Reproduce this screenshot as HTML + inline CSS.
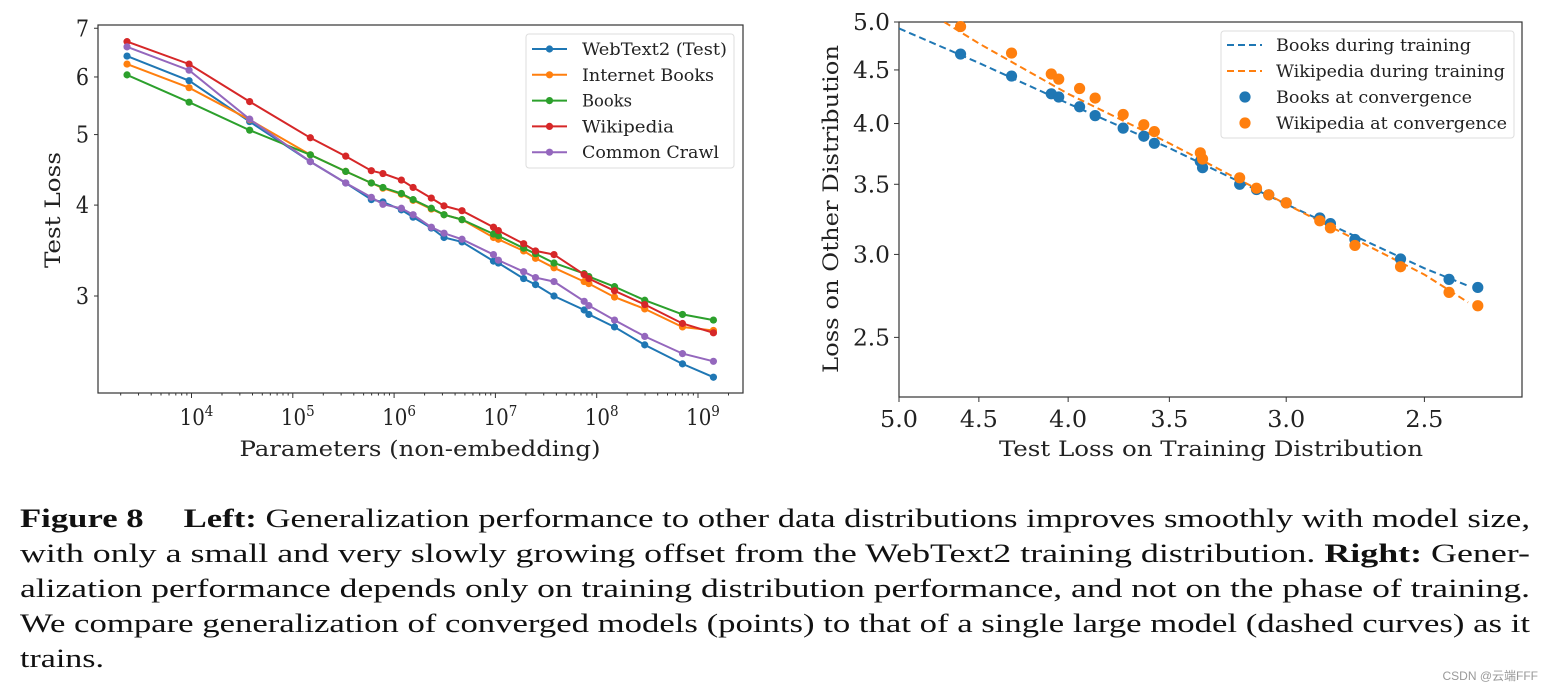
<!DOCTYPE html>
<html><head><meta charset="utf-8"><style>
html,body{margin:0;padding:0;background:#fff;}
svg{display:block;}
text{font-family:"DejaVu Serif","Liberation Serif",serif;fill:#222;}
text.cond{font-family:"DejaVu Serif Condensed","DejaVu Serif",serif;}
text.cap{font-family:"Liberation Serif",serif;fill:#111;font-size:26px;}
</style></head><body>
<svg id="fig" width="1550" height="691" viewBox="0 0 1550 691" xmlns="http://www.w3.org/2000/svg">
<g id="left"></g>
<g id="right"></g>
<g>
<text class="cap" x="20" y="527" textLength="1510" lengthAdjust="spacingAndGlyphs"><tspan font-weight="bold">Figure 8</tspan><tspan dx="30" font-weight="bold">Left:</tspan> Generalization performance to other data distributions improves smoothly with model size,</text>
<text class="cap" x="20" y="562" textLength="1510" lengthAdjust="spacingAndGlyphs">with only a small and very slowly growing offset from the WebText2 training distribution. <tspan font-weight="bold">Right:</tspan> Gener-</text>
<text class="cap" x="20" y="597" textLength="1510" lengthAdjust="spacingAndGlyphs">alization performance depends only on training distribution performance, and not on the phase of training.</text>
<text class="cap" x="20" y="632" textLength="1510" lengthAdjust="spacingAndGlyphs">We compare generalization of converged models (points) to that of a single large model (dashed curves) as it</text>
<text class="cap" x="20" y="667" textLength="84" lengthAdjust="spacingAndGlyphs">trains.</text>
</g>
<text x="1538" y="680" text-anchor="end" style="font-family:'Liberation Sans','Noto Sans CJK SC',sans-serif;font-size:12px;fill:#999">CSDN @云端FFF</text>
</svg>
<script>
// ---- Left chart data ----
const params = [2.31e3,9.46e3,3.75e4,1.49e5,3.33e5,5.96e5,7.76e5,1.18e6,1.54e6,2.33e6,3.11e6,4.68e6,9.57e6,1.07e7,1.90e7,2.49e7,3.79e7,7.52e7,8.37e7,1.50e8,2.98e8,7.03e8,1.42e9];
const webtext2 = [6.41,5.93,5.21,4.59,4.29,4.07,4.04,3.94,3.85,3.72,3.61,3.56,3.35,3.33,3.17,3.11,3.00,2.87,2.83,2.72,2.57,2.42,2.32];
const internetBooks = [6.25,5.80,5.24,4.69,4.45,4.29,4.22,4.14,4.06,3.95,3.88,3.82,3.61,3.59,3.46,3.38,3.28,3.14,3.12,2.99,2.88,2.72,2.69];
const books = [6.04,5.54,5.07,4.69,4.45,4.29,4.23,4.15,4.07,3.96,3.88,3.82,3.65,3.63,3.49,3.43,3.33,3.22,3.19,3.09,2.96,2.83,2.78];
const wikipedia = [6.71,6.25,5.55,4.95,4.67,4.46,4.42,4.33,4.23,4.09,3.99,3.93,3.73,3.69,3.54,3.46,3.42,3.21,3.17,3.05,2.92,2.75,2.67];
const commonCrawl = [6.60,6.13,5.25,4.59,4.29,4.10,4.01,3.96,3.88,3.73,3.66,3.59,3.42,3.36,3.24,3.18,3.14,2.95,2.91,2.78,2.64,2.50,2.44];
const leftSeriesNames = ["WebText2 (Test)","Internet Books","Books","Wikipedia","Common Crawl"];
const leftYTicks = [3,4,5,6,7];
const leftXTickExps = [4,5,6,7,8,9];
// ---- Right chart data ----
const booksConvX = [4.61,4.31,4.09,4.05,3.94,3.86,3.72,3.62,3.57,3.36,3.35,3.19,3.12,3.07,3.00,2.87,2.83,2.74,2.58,2.42,2.33];
const booksConvY = [4.66,4.44,4.27,4.24,4.15,4.07,3.96,3.89,3.83,3.68,3.63,3.50,3.46,3.42,3.36,3.25,3.21,3.10,2.97,2.84,2.79];
const wikiConvX = [4.61,4.31,4.09,4.05,3.94,3.86,3.72,3.62,3.57,3.36,3.35,3.19,3.12,3.07,3.00,2.87,2.83,2.74,2.58,2.42,2.33];
const wikiConvY = [4.95,4.67,4.46,4.41,4.32,4.23,4.08,3.99,3.93,3.75,3.70,3.55,3.47,3.42,3.36,3.23,3.18,3.06,2.92,2.76,2.68];
const booksTrainX = [5.0,4.5,4.0,3.5,3.0,2.5,2.36];
const booksTrainY = [4.93,4.57,4.18,3.79,3.35,2.91,2.80];
const wikiTrainX = [4.71,4.5,4.0,3.5,3.0,2.5,2.36];
const wikiTrainY = [5.0,4.77,4.27,3.83,3.35,2.87,2.70];
const rightTicks = [5.0,4.5,4.0,3.5,3.0,2.5];

const NS="http://www.w3.org/2000/svg";
function mk(parent,tag,attrs,txt){const e=document.createElementNS(NS,tag);for(const k in attrs)e.setAttribute(k,attrs[k]);if(txt!==undefined)e.textContent=txt;parent.appendChild(e);return e;}
const colors=["#1f77b4","#ff7f0e","#2ca02c","#d62728","#9467bd"];

// ---- Left chart ----
(function(){
const g=document.getElementById('left');
const L=98,R=743,T=25,B=393;
const xs=p=>191.5+101.3*(Math.log10(p)-4);
const ys=v=>296-316*(Math.log(v)-Math.log(3));
const frame=mk(g,'rect',{x:L,y:T,width:R-L,height:B-T,fill:'none',stroke:'#333','stroke-width':1.2});


for(let k=3;k<=9;k++){for(let m=1;m<=9;m++){const x=xs(m*Math.pow(10,k));if(x<L||x>R)continue;
 const t=mk(g,'line',{x1:x,x2:x,y1:B,y2:B+(m===1?5:2.5),stroke:'#333','stroke-width':1});
 
 }}
leftXTickExps.forEach(e=>{const x=xs(Math.pow(10,e));
 const t=mk(g,'text',{x:x+5,y:425,'text-anchor':'middle','font-size':22,'class':'cond'});
 
 
 mk(t,'tspan',{},'10');mk(t,'tspan',{dy:-9,'font-size':15},String(e));});
leftYTicks.forEach(v=>{const y=ys(v);
 const t=mk(g,'line',{x1:L-4,x2:L,y1:y,y2:y,stroke:'#333','stroke-width':1});
 
 
 const l=mk(g,'text',{x:L-9,y:y+8,'text-anchor':'end','font-size':23,'class':'cond'},String(v));
 
 });
const xl=mk(g,'text',{x:420,y:456,'text-anchor':'middle','font-size':21,textLength:361,lengthAdjust:'spacingAndGlyphs','class':'cond'},'Parameters (non-embedding)');


const yl=mk(g,'text',{x:0,y:0,'text-anchor':'middle','font-size':21,textLength:116,lengthAdjust:'spacingAndGlyphs','class':'cond',transform:'translate(60,210) rotate(-90)'},'Test Loss');


const series=[webtext2,internetBooks,books,wikipedia,commonCrawl];
series.forEach((s,i)=>{
 const pts=s.map((v,j)=>xs(params[j]).toFixed(1)+','+ys(v).toFixed(1)).join(' ');
 const sg=mk(g,'g',{});
 
 
 mk(sg,'polyline',{points:pts,fill:'none',stroke:colors[i],'stroke-width':2});
 s.forEach((v,j)=>{const c=mk(sg,'circle',{cx:xs(params[j]),cy:ys(v),r:3.6,fill:colors[i]});
  
  });
});
const lg=mk(g,'g',{});


mk(lg,'rect',{x:526,y:34,width:208,height:134,rx:3,fill:'#fff',stroke:'#ddd','stroke-width':1});
const lw=[145,132,50,92,137];
leftSeriesNames.forEach((n,i)=>{const y=49+i*25.8;
 const eg=mk(lg,'g',{});
 
 
 mk(eg,'line',{x1:532,x2:567,y1:y,y2:y,stroke:colors[i],'stroke-width':2});
 mk(eg,'circle',{cx:549.5,cy:y,r:3.6,fill:colors[i]});
 mk(eg,'text',{x:582,y:y+6,'font-size':17,'class':'cond',textLength:lw[i],lengthAdjust:'spacingAndGlyphs'},n);});
})();

// ---- Right chart ----
(function(){
const g=document.getElementById('right');
const L=899,R=1522,T=22,B=397;
const xs=v=>899+758*Math.log(5/v);
const ys=v=>22+455*Math.log(5/v);
const frame=mk(g,'rect',{x:L,y:T,width:R-L,height:B-T,fill:'none',stroke:'#333','stroke-width':1.2});


rightTicks.forEach(v=>{
 const x=xs(v),y=ys(v);
 const t1=mk(g,'line',{x1:x,x2:x,y1:B,y2:B+5,stroke:'#333','stroke-width':1});
 
 
 const l1=mk(g,'text',{x:x,y:427,'text-anchor':'middle','font-size':23,'class':'cond',textLength:38,lengthAdjust:'spacingAndGlyphs'},v.toFixed(1));
 
 
 const t2=mk(g,'line',{x1:L-5,x2:L,y1:y,y2:y,stroke:'#333','stroke-width':1});
 
 
 const l2=mk(g,'text',{x:L-9,y:y+8,'text-anchor':'end','font-size':23,'class':'cond',textLength:37,lengthAdjust:'spacingAndGlyphs'},v.toFixed(1));
 
 
});
const xl=mk(g,'text',{x:1211,y:456,'text-anchor':'middle','font-size':21,textLength:424,lengthAdjust:'spacingAndGlyphs','class':'cond'},'Test Loss on Training Distribution');


const yl=mk(g,'text',{x:0,y:0,'text-anchor':'middle','font-size':21,textLength:328,lengthAdjust:'spacingAndGlyphs','class':'cond',transform:'translate(838,209) rotate(-90)'},'Loss on Other Distribution');


const clip=mk(g,'clipPath',{id:'rclip'});mk(clip,'rect',{x:L,y:T,width:R-L,height:B-T});
const bt=mk(g,'polyline',{points:booksTrainX.map((x,i)=>xs(x)+','+ys(booksTrainY[i])).join(' '),fill:'none',stroke:colors[0],'stroke-width':2,'stroke-dasharray':'7,4','clip-path':'url(#rclip)'});


const wt=mk(g,'polyline',{points:wikiTrainX.map((x,i)=>xs(x)+','+ys(wikiTrainY[i])).join(' '),fill:'none',stroke:colors[1],'stroke-width':2,'stroke-dasharray':'7,4','clip-path':'url(#rclip)'});


booksConvX.forEach((x,i)=>{const c=mk(g,'ellipse',{cx:xs(x),cy:ys(booksConvY[i]),rx:5.6,ry:5.6,fill:colors[0]});
 
 });
wikiConvX.forEach((x,i)=>{const c=mk(g,'ellipse',{cx:xs(x),cy:ys(wikiConvY[i]),rx:5.6,ry:5.6,fill:colors[1]});
 
 });
const lg=mk(g,'g',{});


mk(lg,'rect',{x:1221,y:31,width:293,height:107,rx:3,fill:'#fff',stroke:'#ddd','stroke-width':1});
const names=["Books during training","Wikipedia during training","Books at convergence","Wikipedia at convergence"];
const rw=[195,229,196,231];
names.forEach((n,i)=>{const y=45+i*26;
 const eg=mk(lg,'g',{});
 
 
 const c=colors[i%2];
 if(i<2) mk(eg,'line',{x1:1227,x2:1262,y1:y,y2:y,stroke:c,'stroke-width':2,'stroke-dasharray':'7,4'});
 else mk(eg,'circle',{cx:1245,cy:y,r:5.6,fill:c});
 mk(eg,'text',{x:1276,y:y+6,'font-size':17,'class':'cond',textLength:rw[i],lengthAdjust:'spacingAndGlyphs'},n);});
})();
</script>
</body></html>
